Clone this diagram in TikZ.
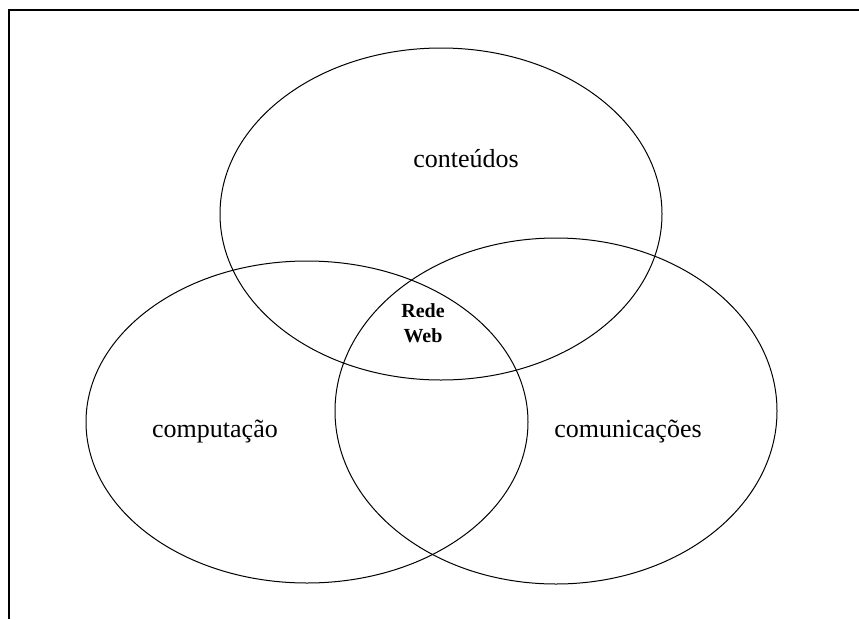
\documentclass[tikz,border=0pt]{standalone}
\usepackage{fontspec}
\setmainfont{Liberation Serif}
\begin{document}
\begin{tikzpicture}[x=1pt,y=-1pt,
  frameline/.style={line width=2pt,black},
  circleset/.style={draw,line width=1pt,black},
  setlabel/.style={anchor=base,inner sep=0pt,font=\fontsize{26}{30}\selectfont},
  corelabel/.style={anchor=base,inner sep=0pt,align=center,font=\fontsize{20}{25}\selectfont\bfseries}]
  \useasboundingbox (0,0) rectangle (859,619);
  % partial page frame
  \coordinate (fbl) at (9,619);
  \coordinate (ftl) at (9,9.5);
  \coordinate (ftr) at (859,9.5);
  \draw[frameline] (fbl) -- (ftl) -- (ftr);
  % the three overlapping sets
  \draw[circleset] (441,214) ellipse [x radius=221, y radius=166];
  \draw[circleset] (307,422) ellipse [x radius=221, y radius=161];
  \draw[circleset] (556,411) ellipse [x radius=221, y radius=173];
  % labels
  \node[setlabel] (cont) at (466,167) {conteúdos};
  \node[setlabel] (comp) at (215,437) {computação};
  \node[setlabel] (comu) at (628,437) {comunicações};
  % base anchor of a two-line node sits on its last line
  \node[corelabel] (web) at (423,342) {Rede\\Web};
\end{tikzpicture}
\end{document}
